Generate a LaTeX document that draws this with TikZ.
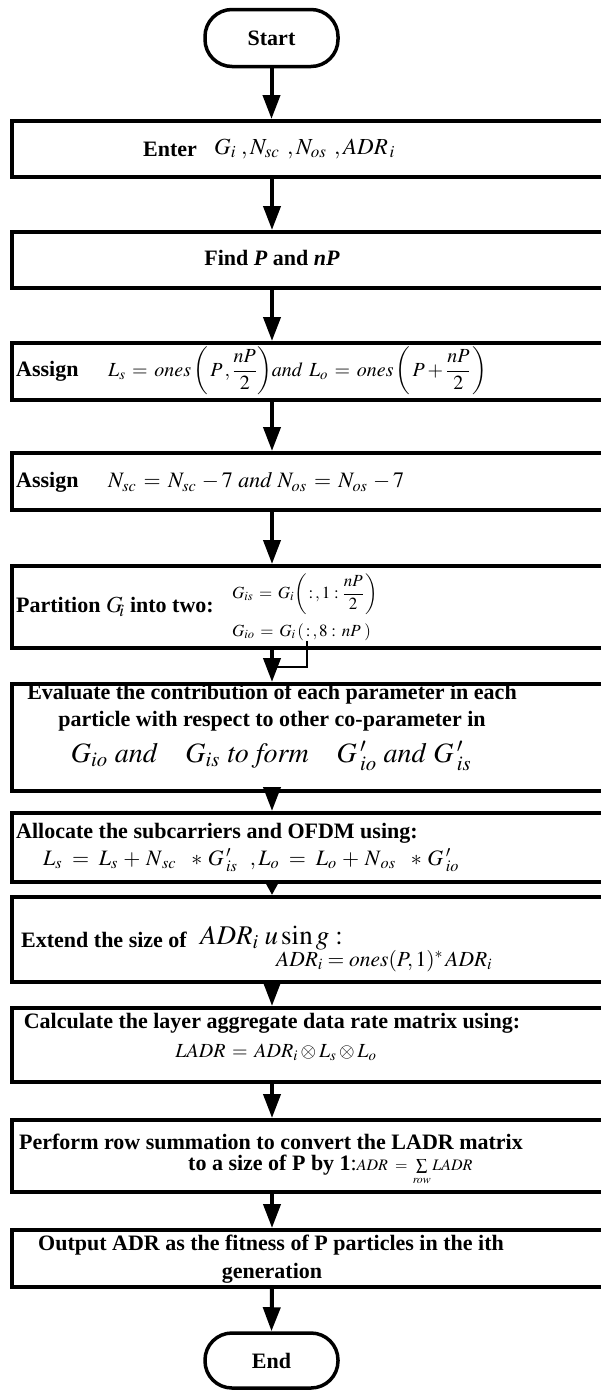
\documentclass[tikz,border=0pt]{standalone}
\usepackage{amsmath}
\usepackage{mathptmx}
\usepackage{fontspec}
\setmainfont{Liberation Serif}
\usetikzlibrary{arrows.meta}
\newcommand{\fs}[1]{\fontsize{#1}{#1}\selectfont}
\begin{document}
\begin{tikzpicture}[x=1pt,y=-1pt]
\tikzset{
  frame/.style={draw, line width=4pt, inner sep=0pt, minimum width=600pt},
  term/.style={draw, line width=3.5pt, rounded corners=27pt, minimum width=133pt, inner sep=0pt, font=\bfseries\fs{22}},
  arr/.style={line width=4pt, -{Triangle[length=24pt,width=17pt]}},
  arrs/.style={line width=4pt, -{Triangle[length=14pt,width=14pt]}},
  lbl/.style={inner sep=0pt, font=\fs{22}},
  blbl/.style={inner sep=0pt, font=\bfseries\fs{22}},
  thinline/.style={line width=1.2pt},
}
\useasboundingbox (0,0) rectangle (601,1390);
% terminals and boxes
\node[term, minimum height=57pt] (start) at (271.5,38) {Start};
\node[frame, minimum height=56pt] (enter) at (312,149) {};
\node[frame, minimum height=56pt] (find) at (312,260) {};
\node[frame, minimum height=57pt] (as1) at (312,371.5) {};
\node[frame, minimum height=57pt] (as2) at (312,481.5) {};
\node[frame, minimum height=82pt] (part) at (312,607) {};
\node[frame, minimum height=107pt] (eval) at (312,737.5) {};
\node[frame, minimum height=69pt] (alloc) at (312,847.5) {};
\node[frame, minimum height=85pt] (ext) at (312,939.5) {};
\node[frame, minimum height=74pt] (calc) at (312,1045) {};
\node[frame, minimum height=72pt] (perf) at (312,1156) {};
\node[frame, minimum height=57pt] (outp) at (312,1258.5) {};
\node[term, minimum height=55pt] (fin) at (271.5,1360.5) {End};
% texts
\node[blbl, anchor=west] (tenter) at (143,149) {Enter};
\node[lbl, anchor=west, font=\fs{23}] (menter) at (214,149) {$G_{i}\;,N_{sc}\;\,,N_{os}\;\,,ADR_{\,i}$};
\node[blbl] (tfind) at (272,258) {Find \textit{P} and \textit{nP}};
\node[blbl, anchor=west] (tas1) at (16,371) {Assign};
\node[lbl, anchor=west, font=\fs{20}] (mas1) at (108,371) {$L_{s} \,=\, \mathit{ones}\left(\,P\,,\dfrac{nP}{2}\right)\!\mathit{and}\;\, L_{o} \,=\, \mathit{ones}\left(\,P + \dfrac{nP}{2}\,\right)$};
\node[blbl, anchor=west] (tas2) at (16,482) {Assign};
\node[lbl, anchor=west, font=\fs{22}] (mas2) at (108,482) {$N_{sc} \,=\, N_{sc}\, - 7\ \mathit{and}\ N_{os} \,=\, N_{os}\, - 7$};
\node[blbl, anchor=west] (tpart) at (16,607) {Partition {\fs{23}$G_{\!\!\!\:i}$} into two:};
\node[lbl, anchor=west, font=\fs{17}] (tgis) at (232,594) {$G_{is} \,=\, G_{i}\!\left(\,:\,,1:\dfrac{nP}{2}\,\right)$};
\node[lbl, anchor=west, font=\fs{17}] (tgio) at (232,632) {$G_{io} \,=\, G_{i}\,(\,:\,,8:\,nP\;)$};
\node[blbl] (tev1) at (272,694) {Evaluate the contribution of each parameter in each};
\node[blbl] (tev2) at (272,721) {particle with respect to other co-parameter in};
\node[lbl, font=\fs{28}] (tev3) at (271,756) {$G_{io}\ \mathit{and}\quad G_{is}\ \mathit{to}\ \mathit{form}\quad G\,'_{io}\ \mathit{and}\ G\,'_{is}$};
\node[blbl, anchor=west] (tal1) at (16,833) {Allocate the subcarriers and OFDM using:};
\node[lbl, anchor=west, font=\fs{22}] (tal2) at (43,860) {$L_{s} \;=\; L_{s} \,+\, N_{\,sc}\;\;\, *\, G\,'_{is}\;\;\,, L_{o} \;=\; L_{o} \,+\, N_{\,os}\;\;\, *\, G\,'_{io}$};
\node[blbl, anchor=west] (tex1) at (21,940) {Extend the size of};
\node[lbl, anchor=west, font=\fs{27}] (mex1) at (200,938) {$ADR_{i}\;u\sin g:$};
\node[lbl, anchor=west, font=\fs{21.5}] (tex2) at (276,961) {$ADR_{i} = \mathit{ones}(P,1)^{*}\,ADR_{i}$};
\node[blbl] (tca1) at (272,1023) {Calculate the layer aggregate data rate matrix using:};
\node[lbl, font=\fs{20}] (tca2) at (276,1052) {$LADR \,=\, ADR_{i} \otimes L_{s} \otimes L_{o}$};
\node[blbl] (tpe1) at (271,1142) {Perform row summation to convert the LADR matrix};
\node[lbl, anchor=west] (tpe2) at (188,1170) {\textbf{to a size of P by 1}:{\fs{16}$ADR \;=\, \sum\limits_{\mathit{row}} LADR$}};
\node[blbl] (tou1) at (271,1245) {Output ADR as the fitness of P particles in the ith};
\node[blbl] (tou2) at (272,1273) {generation};
% connectors
\draw[arr] (start.south) -- (start.south |- enter.north);
\draw[arr] (272,177) coordinate (e1) -- (e1 |- find.north);
\draw[arr] (272,288) coordinate (f1) -- (f1 |- as1.north);
\draw[arr] (272,400) coordinate (a1) -- (a1 |- as2.north);
\draw[arr] (272,510) coordinate (a2) -- (a2 |- part.north);
\draw[arr] (272,648) coordinate (p1) -- (p1 |- eval.north);
\coordinate (pc) at (307,641);
\coordinate (pj) at (272,667);
\draw[thinline] (pc) |- (pj);
\draw[arr] (272,791) coordinate (v1) -- (v1 |- alloc.north);
\draw[arrs] (272,882) coordinate (l1) -- (l1 |- ext.north);
\draw[arr] (272,982) coordinate (x1) -- (x1 |- calc.north);
\draw[arr] (272,1082) coordinate (c1) -- (c1 |- perf.north);
\draw[arr] (272,1192) coordinate (r1) -- (r1 |- outp.north);
\draw[arr] (272,1287) coordinate (o1) -- (fin.north);
\end{tikzpicture}
\end{document}
